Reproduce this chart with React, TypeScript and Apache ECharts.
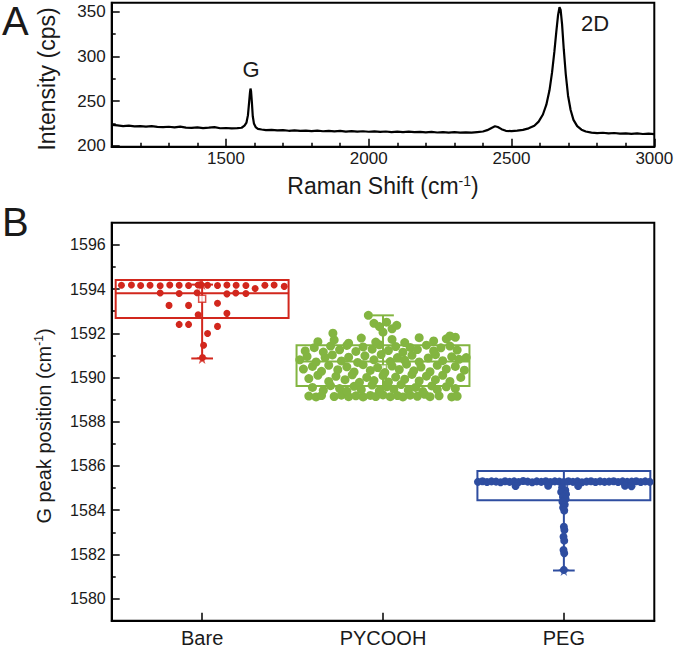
import React, { useEffect, useRef } from "react";
import * as echarts from "echarts";

// ---------- Panel A: Raman spectrum ----------
const ramanShift = [
  1100, 1120, 1140, 1160, 1180, 1200, 1220, 1240, 1260, 1280, 1300, 1320, 1340, 1360, 1380, 1400,
  1420, 1440, 1460, 1480, 1500, 1520, 1540, 1555, 1565, 1572, 1577, 1581, 1584, 1586, 1588, 1591,
  1594, 1598, 1604, 1612, 1625, 1640, 1660, 1680, 1700, 1720, 1740, 1760, 1780, 1800, 1820, 1840,
  1860, 1880, 1900, 1920, 1940, 1960, 1980, 2000, 2020, 2040, 2060, 2080, 2100, 2120, 2140, 2160,
  2180, 2200, 2220, 2240, 2260, 2280, 2300, 2320, 2340, 2360, 2380, 2400, 2415, 2430, 2442, 2452,
  2465, 2480, 2500, 2520, 2540, 2560, 2580, 2595, 2610, 2622, 2633, 2642, 2650, 2657, 2663, 2668,
  2672, 2677, 2683, 2690, 2698, 2707, 2717, 2730, 2745, 2760, 2780, 2800, 2820, 2840, 2860, 2880,
  2900, 2920, 2940, 2960, 2980, 3000,
];
const intensity = [
  223.5, 222.8, 222.1, 222.6, 221.8, 222.0, 221.4, 221.9, 221.2, 220.8, 221.3, 220.6, 221.5, 220.4, 220.1, 220.7,
  219.8, 220.3, 220.9, 219.6, 219.9, 219.4, 219.8, 220.2, 222.5, 226, 234, 248, 259, 264, 261, 248,
  233, 225, 221, 219, 218.2, 217.6, 217.9, 217.2, 217.5, 216.8, 217.3, 216.6, 216.9, 216.4, 217.0, 216.3,
  216.7, 216.1, 216.6, 215.9, 216.4, 215.8, 216.3, 215.7, 216.2, 215.6, 216.0, 215.4, 215.9, 215.3, 215.8, 215.2,
  215.6, 215.0, 215.5, 214.9, 215.3, 214.8, 215.2, 214.7, 215.1, 214.8, 215.4, 216.0, 217.5, 220.0, 221.8, 221.0,
  218.6, 216.8, 216.4, 217.0, 217.8, 219.5, 222.5, 227, 235, 246, 262, 282, 305, 328, 346, 355,
  352, 336, 308, 280, 256, 240, 229, 222, 218, 216, 214.8, 214.2, 214.6, 213.9, 214.3, 213.6,
  214.0, 213.4, 213.8, 213.2, 213.6, 213.1,
];
const xMajorTicks = [1500, 2000, 2500, 3000];
const xMinorTicks = [1200, 1300, 1400, 1600, 1700, 1800, 1900, 2100, 2200, 2300, 2400, 2600, 2700, 2800, 2900];
const yMajorTicksA = [200, 250, 300, 350];
const yMinorTicksA = [225, 275, 325];

// ---------- Panel B: G peak positions ----------
const categories = ["Bare", "PYCOOH", "PEG"];
const boxMin = [1590.86, 1589.15, 1581.27];
const boxQ1 = [1592.69, 1589.62, 1584.45];
const boxMedian = [1593.81, 1590.72, 1585.29];
const boxQ3 = [1594.41, 1591.46, 1585.77];
const boxMax = [1594.2, 1592.81, 1585.77];
const boxMean = [1593.56, 1590.42, 1584.98];
const yMajorTicksB = [1580, 1582, 1584, 1586, 1588, 1590, 1592, 1594, 1596];
const yMinorTicksB = [1581, 1583, 1585, 1587, 1589, 1591, 1593, 1595];

// [horizontal jitter within category, G peak position]
const barePoints = [
  [-0.446, 1594.17], [-0.391, 1594.18], [-0.34, 1594.16], [-0.288, 1594.17], [-0.232, 1594.15],
  [-0.179, 1594.18], [-0.127, 1594.17], [-0.075, 1594.16], [-0.022, 1594.18], [-0.007, 1594.2],
  [0.03, 1594.17], [0.085, 1594.16], [0.137, 1594.18], [0.188, 1594.17], [0.242, 1594.16],
  [0.293, 1594.02], [0.347, 1594.17], [0.398, 1594.18], [0.454, 1594.12],
  [-0.232, 1593.82], [-0.127, 1593.8], [-0.028, 1593.83], [0.137, 1593.78], [0.186, 1593.82], [0.242, 1593.8],
  [-0.183, 1593.26], [-0.075, 1593.26], [0.085, 1593.36], [-0.022, 1592.84], [0.137, 1592.9],
  [-0.127, 1592.4], [-0.075, 1592.4], [0.085, 1592.31], [0.03, 1591.99], [0.008, 1591.46], [0.002, 1590.9],
];
const pycoohPoints = [
  [-0.41, 1589.16], [-0.37, 1589.12], [-0.34, 1589.18], [-0.27, 1589.14], [-0.23, 1589.2], [-0.19, 1589.13],
  [-0.15, 1589.17], [-0.11, 1589.12], [-0.07, 1589.19], [-0.04, 1589.14], [0.0, 1589.21], [0.04, 1589.13],
  [0.08, 1589.18], [0.11, 1589.12], [0.15, 1589.2], [0.19, 1589.15], [0.23, 1589.24], [0.26, 1589.13],
  [0.31, 1589.17], [0.38, 1589.12], [0.41, 1589.15],
  [-0.39, 1589.55], [-0.33, 1589.42], [-0.29, 1589.63], [-0.24, 1589.5], [-0.2, 1589.38], [-0.16, 1589.6],
  [-0.12, 1589.45], [-0.06, 1589.66], [-0.02, 1589.4], [0.02, 1589.58], [0.06, 1589.47], [0.1, 1589.68],
  [0.14, 1589.42], [0.18, 1589.55], [0.22, 1589.37], [0.27, 1589.62], [0.3, 1589.45], [0.35, 1589.58], [0.4, 1589.5],
  [-0.41, 1589.95], [-0.36, 1590.1], [-0.3, 1589.82], [-0.26, 1590.05], [-0.21, 1589.9], [-0.17, 1590.12],
  [-0.13, 1589.78], [-0.09, 1590.0], [-0.05, 1589.86], [0.0, 1590.08], [0.03, 1589.8], [0.07, 1590.02],
  [0.12, 1589.92], [0.16, 1590.14], [0.2, 1589.84], [0.24, 1590.06], [0.29, 1589.9], [0.33, 1590.1],
  [0.37, 1589.82], [0.43, 1590.0],
  [-0.44, 1590.38], [-0.39, 1590.5], [-0.34, 1590.28], [-0.3, 1590.55], [-0.25, 1590.35], [-0.2, 1590.48],
  [-0.16, 1590.25], [-0.11, 1590.58], [-0.07, 1590.32], [-0.03, 1590.45], [0.01, 1590.22], [0.05, 1590.52],
  [0.09, 1590.36], [0.13, 1590.6], [0.17, 1590.3], [0.21, 1590.47], [0.26, 1590.26], [0.3, 1590.55],
  [0.35, 1590.38], [0.4, 1590.5], [0.45, 1590.33],
  [-0.46, 1590.8], [-0.42, 1590.95], [-0.37, 1590.7], [-0.32, 1590.9], [-0.28, 1591.02], [-0.23, 1590.75],
  [-0.19, 1590.92], [-0.14, 1590.68], [-0.1, 1590.98], [-0.05, 1590.8], [-0.01, 1591.04], [0.04, 1590.72],
  [0.08, 1590.9], [0.12, 1590.78], [0.16, 1591.0], [0.2, 1590.7], [0.25, 1590.88], [0.29, 1591.03],
  [0.33, 1590.76], [0.38, 1590.94], [0.42, 1590.82], [0.46, 1590.9],
  [-0.43, 1591.2], [-0.38, 1591.35], [-0.33, 1591.15], [-0.29, 1591.42], [-0.24, 1591.25], [-0.2, 1591.45],
  [-0.15, 1591.18], [-0.11, 1591.38], [-0.06, 1591.28], [-0.02, 1591.48], [0.03, 1591.22], [0.07, 1591.4],
  [0.11, 1591.14], [0.15, 1591.36], [0.19, 1591.26], [0.24, 1591.46], [0.28, 1591.2], [0.32, 1591.34],
  [0.37, 1591.42], [0.41, 1591.24],
  [-0.36, 1591.62], [-0.27, 1591.7], [-0.19, 1591.55], [-0.12, 1591.78], [-0.04, 1591.6], [0.05, 1591.72],
  [0.12, 1591.58], [0.2, 1591.8], [0.28, 1591.65], [0.35, 1591.75], [0.4, 1591.82],
  [-0.081, 1592.81], [-0.05, 1592.45], [-0.02, 1592.3], [0.02, 1592.5], [0.05, 1592.2], [0.076, 1592.36],
  [0.0, 1592.05], [-0.277, 1592.0], [0.37, 1591.88],
];
const pegPoints = [
  [-0.475, 1585.28], [-0.45, 1585.31], [-0.425, 1585.27], [-0.4, 1585.3], [-0.375, 1585.29], [-0.35, 1585.26],
  [-0.325, 1585.31], [-0.3, 1585.28], [-0.275, 1585.3], [-0.25, 1585.27], [-0.225, 1585.32], [-0.2, 1585.29],
  [-0.175, 1585.26], [-0.15, 1585.3], [-0.125, 1585.28], [-0.1, 1585.31], [-0.075, 1585.27], [-0.05, 1585.3],
  [-0.025, 1585.29], [0.0, 1585.27], [0.025, 1585.31], [0.05, 1585.28], [0.075, 1585.3], [0.1, 1585.26],
  [0.125, 1585.29], [0.15, 1585.31], [0.175, 1585.27], [0.2, 1585.3], [0.225, 1585.28], [0.25, 1585.29],
  [0.275, 1585.31], [0.3, 1585.27], [0.325, 1585.3], [0.35, 1585.28], [0.375, 1585.29], [0.4, 1585.31],
  [0.425, 1585.27], [0.45, 1585.3], [0.475, 1585.28],
  [-0.267, 1585.09], [-0.087, 1585.1], [0.079, 1585.09], [0.338, 1585.1], [0.374, 1585.08],
  [-0.01, 1585.02], [0.008, 1584.9], [-0.015, 1584.82], [0.012, 1584.72], [-0.005, 1584.6], [0.01, 1584.5],
  [-0.008, 1584.38], [0.005, 1584.25], [-0.004, 1584.12], [0.002, 1583.98],
  [0.0, 1583.25], [0.003, 1583.1], [-0.002, 1582.8], [0.002, 1582.62], [-0.002, 1582.2], [0.002, 1582.05],
  [0.0, 1581.3],
];

const colors = ["#D2271D", "#83B541", "#2E4DA0"];
const FONT = "'Liberation Sans', Arial, Helvetica, sans-serif";

export default function App() {
  const ref = useRef<HTMLDivElement>(null);

  useEffect(() => {
    if (!ref.current) return;
    const chart = echarts.init(ref.current, null, { renderer: "svg" });

    const gridA = { left: 111.7, top: 2.7, width: 542.6, height: 144 };
    const gridB = { left: 111.7, top: 222.7, width: 542.6, height: 398 };

    const axisLineStyle = { color: "#000", width: 2 };
    const labelStyle = { color: "#1a1a1a", fontFamily: FONT };
    const plain = (v: number) => String(v);

    const boxData = categories.map((c, i) => [i + 0.5, boxMin[i], boxQ1[i], boxMedian[i], boxQ3[i], boxMax[i]]);

    const pointSeries = [barePoints, pycoohPoints, pegPoints].map((pts, i) => ({
      type: "scatter",
      xAxisIndex: 3,
      yAxisIndex: 2,
      symbol: "circle",
      symbolSize: [7, 9, 8][i],
      itemStyle: { color: colors[i], opacity: 1 },
      z: 4,
      data: pts.map((p) => [i + 0.5 + p[0], p[1]]),
    }));

    const starPath =
      "path://M50,0 L61,35 L98,35 L68,57 L79,91 L50,70 L21,91 L32,57 L2,35 L39,35 Z";

    const tickStyle = { color: "#000", width: 1.5 };

    const option: any = {
      animation: false,
      backgroundColor: "#fff",
      grid: [
        { ...gridA, show: true, borderColor: "#000", borderWidth: 2, backgroundColor: "transparent" },
        { ...gridB, show: true, borderColor: "#000", borderWidth: 2, backgroundColor: "transparent" },
      ],
      xAxis: [
        {
          type: "value", gridIndex: 0, min: 1100, max: 3000, position: "bottom",
          axisLine: { show: true, lineStyle: axisLineStyle },
          axisTick: { show: true, inside: true, length: 8, customValues: xMajorTicks, lineStyle: tickStyle },
          axisLabel: { show: true, customValues: xMajorTicks, formatter: plain, fontSize: 17, margin: 3, ...labelStyle },
          splitLine: { show: false },
        },
        {
          type: "value", gridIndex: 0, min: 1100, max: 3000, position: "bottom",
          axisLine: { show: false },
          axisTick: { show: true, inside: true, length: 4, customValues: xMinorTicks, lineStyle: tickStyle },
          axisLabel: { show: false },
          splitLine: { show: false },
        },
        {
          type: "category", gridIndex: 1, data: categories, position: "bottom",
          axisLine: { show: true, lineStyle: axisLineStyle },
          axisTick: { show: true, inside: true, alignWithLabel: true, length: 8, lineStyle: tickStyle },
          axisLabel: { show: true, fontSize: 20, margin: 7, ...labelStyle },
          splitLine: { show: false },
        },
        {
          type: "value", gridIndex: 1, min: 0, max: 3, show: false,
        },
      ],
      yAxis: [
        {
          type: "value", gridIndex: 0, min: 199, max: 360, position: "left",
          axisLine: { show: true, lineStyle: axisLineStyle },
          axisTick: { show: true, inside: true, length: 8, customValues: yMajorTicksA, lineStyle: tickStyle },
          axisLabel: { show: true, customValues: yMajorTicksA, formatter: plain, fontSize: 17, margin: 6, ...labelStyle },
          splitLine: { show: false },
        },
        {
          type: "value", gridIndex: 0, min: 199, max: 360, position: "left", offset: 0,
          axisLine: { show: false },
          axisTick: { show: true, inside: true, length: 4, customValues: yMinorTicksA, lineStyle: tickStyle },
          axisLabel: { show: false },
          splitLine: { show: false },
        },
        {
          type: "value", gridIndex: 1, min: 1579, max: 1597, position: "left",
          axisLine: { show: true, lineStyle: axisLineStyle },
          axisTick: { show: true, inside: true, length: 8, customValues: yMajorTicksB, lineStyle: tickStyle },
          axisLabel: { show: true, customValues: yMajorTicksB, formatter: plain, fontSize: 16, margin: 6, ...labelStyle },
          splitLine: { show: false },
        },
        {
          type: "value", gridIndex: 1, min: 1579, max: 1597, position: "left", offset: 0,
          axisLine: { show: false },
          axisTick: { show: true, inside: true, length: 4, customValues: yMinorTicksB, lineStyle: tickStyle },
          axisLabel: { show: false },
          splitLine: { show: false },
        },
      ],
      series: [
        {
          type: "line",
          xAxisIndex: 0,
          yAxisIndex: 0,
          showSymbol: false,
          symbol: "none",
          lineStyle: { color: "#000", width: 2.2 },
          data: ramanShift.map((x, i) => [x, intensity[i]]),
          z: 3,
        },
        {
          type: "custom",
          xAxisIndex: 3,
          yAxisIndex: 2,
          z: 2,
          encode: { x: 0, y: [1, 2, 3, 4, 5] },
          data: boxData,
          renderItem: (params: any, api: any) => {
            const i = params.dataIndex;
            const x = api.value(0);
            const pMin = api.coord([x, api.value(1)]);
            const pQ1 = api.coord([x, api.value(2)]);
            const pMed = api.coord([x, api.value(3)]);
            const pQ3 = api.coord([x, api.value(4)]);
            const pMax = api.coord([x, api.value(5)]);
            const half = api.size([0.478, 0])[0];
            const cap = api.size([0.06, 0])[0];
            const cx = pMed[0];
            const col = colors[i];
            const st = { stroke: col, lineWidth: 2, fill: "none" };
            return {
              type: "group",
              children: [
                { type: "line", shape: { x1: cx, y1: pMin[1], x2: cx, y2: pMax[1] }, style: st },
                { type: "line", shape: { x1: cx - cap, y1: pMin[1], x2: cx + cap, y2: pMin[1] }, style: st },
                { type: "line", shape: { x1: cx - cap, y1: pMax[1], x2: cx + cap, y2: pMax[1] }, style: st },
                {
                  type: "rect",
                  shape: { x: cx - half, y: pQ3[1], width: 2 * half, height: pQ1[1] - pQ3[1] },
                  style: st,
                },
                { type: "line", shape: { x1: cx - half, y1: pMed[1], x2: cx + half, y2: pMed[1] }, style: st },
              ],
            };
          },
        },
        {
          type: "scatter",
          xAxisIndex: 3,
          yAxisIndex: 2,
          symbol: "rect",
          symbolSize: 7,
          z: 3,
          data: boxMean.map((m, i) => ({
            value: [i + 0.5, m],
            itemStyle: { color: "#fff", borderColor: colors[i], borderWidth: 1.5 },
          })),
        },
        ...pointSeries,
        {
          type: "scatter",
          xAxisIndex: 3,
          yAxisIndex: 2,
          symbol: starPath,
          symbolSize: 11,
          z: 5,
          data: [
            { value: [0.5, boxMin[0]], itemStyle: { color: colors[0] } },
            { value: [0.5, boxMax[0]], itemStyle: { color: colors[0] } },
            { value: [2.5, boxMin[2]], itemStyle: { color: colors[2] } },
          ],
        },
      ],
      graphic: [
        { type: "text", x: 2, y: 21, style: { text: "A", fontSize: 40, fontFamily: FONT, fill: "#1a1a1a", align: "left", verticalAlign: "middle" } },
        { type: "text", x: 2, y: 222, style: { text: "B", fontSize: 40, fontFamily: FONT, fill: "#1a1a1a", align: "left", verticalAlign: "middle" } },
        { type: "text", x: 251, y: 69, style: { text: "G", fontSize: 22, fontFamily: FONT, fill: "#1a1a1a", align: "center", verticalAlign: "middle" } },
        { type: "text", x: 595, y: 23, style: { text: "2D", fontSize: 22, fontFamily: FONT, fill: "#1a1a1a", align: "center", verticalAlign: "middle" } },
        {
          type: "text", x: 47, y: 79, rotation: Math.PI / 2,
          style: { text: "Intensity (cps)", fontSize: 23, fontFamily: FONT, fill: "#1a1a1a", align: "center", verticalAlign: "middle" },
        },
        {
          type: "text", x: 383, y: 186,
          style: {
            text: "{a|Raman Shift (cm}{s|-1}{a|)}",
            align: "center", verticalAlign: "middle", fill: "#1a1a1a",
            rich: {
              a: { fontSize: 23, fontFamily: FONT, fill: "#1a1a1a" },
              s: { fontSize: 14, fontFamily: FONT, fill: "#1a1a1a", padding: [0, 0, 10, 0] },
            },
          },
        },
        {
          type: "text", x: 44, y: 426, rotation: Math.PI / 2,
          style: {
            text: "{a|G peak position (cm}{s|-1}{a|)}",
            align: "center", verticalAlign: "middle", fill: "#1a1a1a",
            rich: {
              a: { fontSize: 20, fontFamily: FONT, fill: "#1a1a1a" },
              s: { fontSize: 12, fontFamily: FONT, fill: "#1a1a1a", padding: [0, 0, 10, 0] },
            },
          },
        },
      ],
    };

    chart.setOption(option);
    return () => chart.dispose();
  }, []);

  return (
    <div
      ref={ref}
      style={{ position: "fixed", left: 0, top: 0, width: 677, height: 649, background: "#fff" }}
    />
  );
}
